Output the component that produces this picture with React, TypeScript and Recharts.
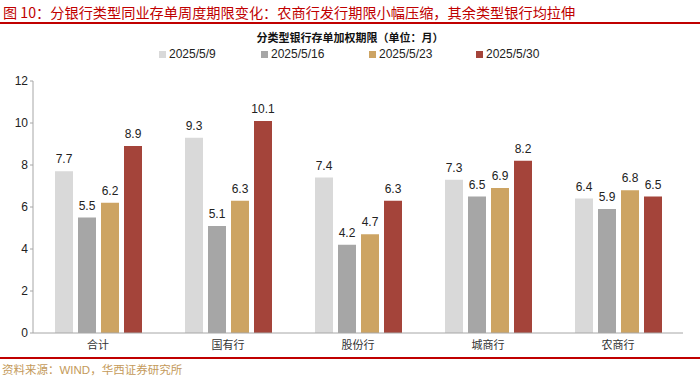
import React from 'react';
import { BarChart, Bar, XAxis, YAxis, LabelList } from 'recharts';

const categories = ['合计', '国有行', '股份行', '城商行', '农商行'];
const seriesNames = ['2025/5/9', '2025/5/16', '2025/5/23', '2025/5/30'];
const w0509 = [7.7, 9.3, 7.4, 7.3, 6.4];
const w0516 = [5.5, 5.1, 4.2, 6.5, 5.9];
const w0523 = [6.2, 6.3, 4.7, 6.9, 6.8];
const w0530 = [8.9, 10.1, 6.3, 8.2, 6.5];
const yTicks = [0, 2, 4, 6, 8, 10, 12];

const colors = ['#d9d9d9', '#a6a6a6', '#cda463', '#a4443a'];
const seriesValues = [w0509, w0516, w0523, w0530];

const data = categories.map((name, i) => {
  const row: any = { name };
  seriesNames.forEach((s, j) => { row[s] = seriesValues[j][i]; });
  return row;
});

const numFont = '"Liberation Sans", Arial, sans-serif';
const cjkFont = '"Noto Sans CJK SC", sans-serif';

// legend drawn as plain html so it doesn't push the plot down
const legendLeft = [159, 261, 369, 476];

export default function App() {
  return (
    <div style={{ position: 'absolute', left: 0, top: 0, width: 700, height: 377, background: '#fff', overflow: 'hidden' }}>
      <div style={{ position: 'absolute', left: 3, top: 2, fontFamily: cjkFont, fontSize: 14.2, color: '#c00000', whiteSpace: 'nowrap' }}>
        图 10：分银行类型同业存单周度期限变化：农商行发行期限小幅压缩，其余类型银行均拉伸
      </div>
      <div style={{ position: 'absolute', left: 0, top: 22, width: 700, height: 1.5, background: '#c00000' }} />
      <div style={{ position: 'absolute', left: 0, top: 29, width: 700, textAlign: 'center', fontFamily: cjkFont, fontSize: 11, fontWeight: 'bold', color: '#111' }}>
        分类型银行存单加权期限（单位：月）
      </div>
      {seriesNames.map((s, i) => (
        <div key={s} style={{ position: 'absolute', left: legendLeft[i], top: 47, display: 'flex', alignItems: 'center', fontFamily: numFont, fontSize: 12, color: '#222' }}>
          <span style={{ display: 'inline-block', width: 7, height: 7, background: colors[i], marginRight: 3 }} />
          {s}
        </div>
      ))}
      <div style={{ position: 'absolute', left: 0, top: 0 }}>
        <BarChart width={700} height={377} data={data} margin={{ top: 81, right: 17, left: 0, bottom: 18 }} barGap={5} barCategoryGap={21}>
          <XAxis dataKey="name" height={26} axisLine={{ stroke: '#a6a6a6' }} tickLine={false}
            tick={{ fontFamily: cjkFont, fontSize: 11, fill: '#333' }} interval={0} />
          <YAxis domain={[0, 12]} ticks={yTicks} width={33} axisLine={{ stroke: '#a6a6a6' }} tickSize={3}
            tickLine={{ stroke: '#a6a6a6' }} tick={{ fontFamily: numFont, fontSize: 12, fill: '#222' }} />
          {seriesNames.map((s, i) => (
            <Bar key={s} dataKey={s} fill={colors[i]} barSize={18} isAnimationActive={false}>
              <LabelList dataKey={s} position="top" offset={8} style={{ fontFamily: numFont, fontSize: 12, fill: '#222' }} />
            </Bar>
          ))}
        </BarChart>
      </div>
      <div style={{ position: 'absolute', left: 0, top: 357, width: 700, height: 1.5, background: '#c00000' }} />
      <div style={{ position: 'absolute', left: 2, top: 361, fontFamily: cjkFont, fontSize: 11.5, color: '#c49a5a', whiteSpace: 'nowrap' }}>
        资料来源：<span style={{ fontFamily: numFont }}>WIND</span>，华西证券研究所
      </div>
    </div>
  );
}
